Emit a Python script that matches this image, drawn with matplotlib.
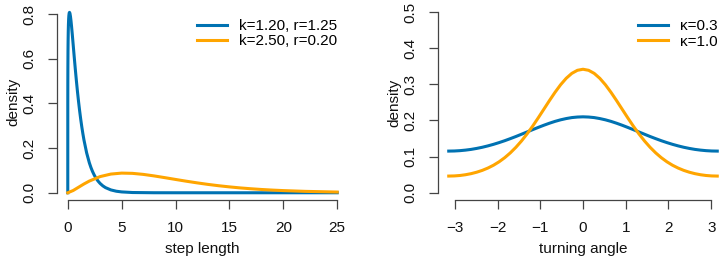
import matplotlib
matplotlib.use("Agg")
import matplotlib.pyplot as plt

plt.rcParams['font.family'] = ['Liberation Sans', 'DejaVu Sans']

# ---- data: step length densities ----
step_x_a = [0, 0.002, 0.005, 0.01, 0.02, 0.03, 0.045, 0.06, 0.08, 0.1, 0.13, 0.16, 0.2,
            0.25, 0.3, 0.35, 0.42, 0.5, 0.6, 0.7, 0.8, 0.9, 1.0, 1.1, 1.2, 1.3, 1.4,
            1.5, 1.75, 2.0, 2.15, 2.3, 2.45, 2.6, 2.8, 3.0, 3.25, 3.5, 4, 4.5, 5, 6, 8,
            10, 15, 20, 25]
step_y_a = [0, 0.4097, 0.4903, 0.5597, 0.6349, 0.6800, 0.7237, 0.7524, 0.7773, 0.7927,
            0.8046, 0.8078, 0.8035, 0.7893, 0.7690, 0.7450, 0.7080, 0.6633, 0.6071,
            0.5526, 0.5008, 0.4525, 0.4079, 0.3669, 0.3294, 0.2954, 0.2646, 0.2367,
            0.1787, 0.1342, 0.1129, 0.0949, 0.0797, 0.0668, 0.0528, 0.0417, 0.0310,
            0.0230, 0.0127, 0.0069, 0.0038, 0.0011, 0.0001, 0.0, 0.0, 0.0, 0.0]
step_x_b = [0, 0.5, 1, 1.5, 2, 3, 4, 5, 6, 7, 8, 9, 10, 11, 12, 13, 14, 15, 16, 17,
            18, 19, 20, 22, 25]
step_y_b = [0, 0.0101, 0.0247, 0.0393, 0.0524, 0.0724, 0.0837, 0.0880, 0.0869, 0.0823,
            0.0755, 0.0677, 0.0596, 0.0517, 0.0443, 0.0375, 0.0315, 0.0263, 0.0217,
            0.0179, 0.0146, 0.0119, 0.0097, 0.0063, 0.0032]
step_labels = ["k=1.20, r=1.25", "k=2.50, r=0.20"]

# ---- data: turning angle densities ----
angle_x = [-3.1416, -3.0107, -2.8798, -2.7489, -2.6180, -2.4871, -2.3562, -2.2253,
           -2.0944, -1.9635, -1.8326, -1.7017, -1.5708, -1.4399, -1.3090, -1.1781,
           -1.0472, -0.9163, -0.7854, -0.6545, -0.5236, -0.3927, -0.2618, -0.1309,
           0.0,
           0.1309, 0.2618, 0.3927, 0.5236, 0.6545, 0.7854, 0.9163, 1.0472, 1.1781,
           1.3090, 1.4399, 1.5708, 1.7017, 1.8326, 1.9635, 2.0944, 2.2253, 2.3562,
           2.4871, 2.6180, 2.7489, 2.8798, 3.0107, 3.1416]
angle_y_a = [0.1153, 0.1156, 0.1165, 0.1180, 0.1200, 0.1227, 0.1259, 0.1297, 0.1340,
             0.1388, 0.1440, 0.1497, 0.1556, 0.1619, 0.1682, 0.1746, 0.1808, 0.1868,
             0.1924, 0.1975, 0.2018, 0.2053, 0.2080, 0.2095,
             0.2101,
             0.2095, 0.2080, 0.2053, 0.2018, 0.1975, 0.1924, 0.1868, 0.1808, 0.1746,
             0.1682, 0.1619, 0.1556, 0.1497, 0.1440, 0.1388, 0.1340, 0.1297, 0.1259,
             0.1227, 0.1200, 0.1180, 0.1165, 0.1156, 0.1153]
angle_y_b = [0.0462, 0.0466, 0.0478, 0.0499, 0.0529, 0.0569, 0.0620, 0.0684, 0.0762,
             0.0857, 0.0970, 0.1103, 0.1257, 0.1432, 0.1628, 0.1843, 0.2073, 0.2311,
             0.2550, 0.2779, 0.2989, 0.3167, 0.3303, 0.3388,
             0.3417,
             0.3388, 0.3303, 0.3167, 0.2989, 0.2779, 0.2550, 0.2311, 0.2073, 0.1843,
             0.1628, 0.1432, 0.1257, 0.1103, 0.0970, 0.0857, 0.0762, 0.0684, 0.0620,
             0.0569, 0.0529, 0.0499, 0.0478, 0.0466, 0.0462]
angle_labels = ["\u03ba=0.3", "\u03ba=1.0"]

step_ticks_x = [0, 5, 10, 15, 20, 25]
step_ticks_y = [0.0, 0.2, 0.4, 0.6, 0.8]
angle_ticks_x = [-3, -2, -1, 0, 1, 2, 3]
angle_ticks_y = [0.0, 0.1, 0.2, 0.3, 0.4, 0.5]

blue = '#0072B2'
orange = '#FFA500'
axcol = '#444444'
txtcol = '#111111'
FS = 11

W, H = 723, 264
fig = plt.figure(figsize=(W / 100, H / 100), dpi=100)

def px_axes(x0, x1, ytop, ybot):
    return fig.add_axes([x0 / W, (H - ybot) / H, (x1 - x0) / W, (ybot - ytop) / H])

def style(ax, xt, yt, xlabel):
    for s in ['top', 'right']:
        ax.spines[s].set_visible(False)
    for s in ['left', 'bottom']:
        ax.spines[s].set_color(axcol)
        ax.spines[s].set_linewidth(0.9)
    ax.spines['bottom'].set_bounds(xt[0], xt[-1])
    ax.spines['left'].set_bounds(yt[0], yt[-1])
    ax.set_xticks(xt)
    ax.set_yticks(yt)
    ax.set_xticklabels([str(v) if v >= 0 else '\u2212' + str(-v) for v in xt])
    ax.set_yticklabels(['%.1f' % v for v in yt], rotation=90, va='center')
    ax.tick_params(axis='both', length=6.5, width=0.9, color=axcol, labelsize=FS,
                   labelcolor=txtcol, pad=8.5)
    ax.set_xlabel(xlabel, fontsize=FS, labelpad=5.5, color=txtcol)
    ax.set_ylabel('density', fontsize=FS, labelpad=1.5, color=txtcol)

def legend(ax, x):
    ax.legend(loc='upper left', bbox_to_anchor=(x, 0.925), frameon=False, fontsize=FS,
              handlelength=1.95, handletextpad=0.78, borderpad=0, borderaxespad=0,
              labelspacing=0.08)

# left panel
ax1 = px_axes(57, 348, 4.6, 200)
ax1.plot(step_x_a, step_y_a, color=blue, lw=2.2, label=step_labels[0])
ax1.plot(step_x_b, step_y_b, color=orange, lw=2.2, label=step_labels[1])
ax1.set_xlim(-1, 26)
ax1.set_ylim(-0.0324, 0.8424)
style(ax1, step_ticks_x, step_ticks_y, 'step length')
legend(ax1, 0.481)

# right panel
ax2 = px_axes(438, 728, 4.8, 200)
ax2.plot(angle_x, angle_y_a, color=blue, lw=2.2, label=angle_labels[0])
ax2.plot(angle_x, angle_y_b, color=orange, lw=2.2, label=angle_labels[1])
ax2.set_xlim(-3.1416 - 0.2513, 3.1416 + 0.2513)
ax2.set_ylim(-0.02, 0.52)
style(ax2, angle_ticks_x, angle_ticks_y, 'turning angle')
legend(ax2, 0.690)

fig.savefig('out.png', dpi=100)
